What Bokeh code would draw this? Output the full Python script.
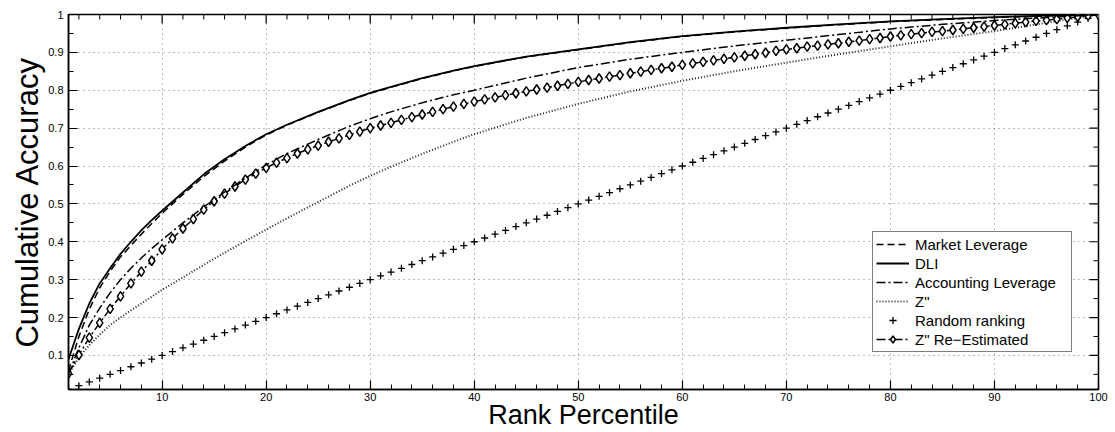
from bokeh.plotting import figure
from bokeh.models import (Range1d, FixedTicker, Legend, LegendItem,
                          CustomJSTickFormatter)
from bokeh.embed import file_html
from bokeh.resources import INLINE

# ---------------- data ----------------
# rank positions at which the smooth curves were read
rank_pts = [1, 2, 3, 4, 5, 6, 7, 8, 9, 10, 12, 14, 16, 18, 20, 22, 25, 28, 30, 32,
            35, 38, 40, 45, 50, 55, 60, 65, 70, 75, 80, 85, 90, 95, 100]

market_leverage = [0.06, 0.15, 0.222, 0.278, 0.322, 0.36, 0.39, 0.42, 0.448, 0.475,
                   0.525, 0.572, 0.613, 0.65, 0.682, 0.708, 0.742, 0.773, 0.792, 0.808,
                   0.831, 0.851, 0.863, 0.888, 0.907, 0.926, 0.942, 0.954, 0.964, 0.973,
                   0.981, 0.987, 0.992, 0.996, 1.0]

dli = [0.09, 0.17, 0.237, 0.29, 0.33, 0.368, 0.40, 0.43, 0.457, 0.482,
       0.53, 0.578, 0.618, 0.653, 0.684, 0.709, 0.743, 0.774, 0.793, 0.809,
       0.832, 0.852, 0.864, 0.889, 0.908, 0.927, 0.943, 0.955, 0.965, 0.974,
       0.982, 0.988, 0.993, 0.997, 1.0]

accounting_leverage = [0.05, 0.12, 0.18, 0.225, 0.265, 0.30, 0.33, 0.357, 0.382, 0.405,
                       0.45, 0.492, 0.531, 0.568, 0.603, 0.633, 0.670, 0.705, 0.725, 0.743,
                       0.767, 0.788, 0.80, 0.832, 0.86, 0.882, 0.90, 0.917, 0.932, 0.947,
                       0.962, 0.974, 0.984, 0.992, 1.0]

z_score = [0.05, 0.095, 0.127, 0.155, 0.18, 0.2, 0.219, 0.237, 0.255, 0.273,
           0.306, 0.339, 0.371, 0.402, 0.432, 0.462, 0.505, 0.548, 0.574, 0.598,
           0.632, 0.664, 0.684, 0.727, 0.764, 0.797, 0.825, 0.85, 0.873, 0.895,
           0.916, 0.937, 0.956, 0.978, 1.0]

# every rank percentile (marker series)
ranks = list(range(1, 101))

random_ranking = [0.01, 0.02, 0.03, 0.04, 0.05, 0.06, 0.07, 0.08, 0.09, 0.10,
                  0.11, 0.12, 0.13, 0.14, 0.15, 0.16, 0.17, 0.18, 0.19, 0.20,
                  0.21, 0.22, 0.23, 0.24, 0.25, 0.26, 0.27, 0.28, 0.29, 0.30,
                  0.31, 0.32, 0.33, 0.34, 0.35, 0.36, 0.37, 0.38, 0.39, 0.40,
                  0.41, 0.42, 0.43, 0.44, 0.45, 0.46, 0.47, 0.48, 0.49, 0.50,
                  0.51, 0.52, 0.53, 0.54, 0.55, 0.56, 0.57, 0.58, 0.59, 0.60,
                  0.61, 0.62, 0.63, 0.64, 0.65, 0.66, 0.67, 0.68, 0.69, 0.70,
                  0.71, 0.72, 0.73, 0.74, 0.75, 0.76, 0.77, 0.78, 0.79, 0.80,
                  0.81, 0.82, 0.83, 0.84, 0.85, 0.86, 0.87, 0.88, 0.89, 0.90,
                  0.91, 0.92, 0.93, 0.94, 0.95, 0.96, 0.97, 0.98, 0.99, 1.00]

z_re_estimated = [0.052, 0.101, 0.147, 0.186, 0.223, 0.256, 0.290, 0.321, 0.350, 0.380,
                  0.409, 0.435, 0.460, 0.485, 0.507, 0.527, 0.546, 0.564, 0.580, 0.595,
                  0.609, 0.621, 0.633, 0.644, 0.654, 0.664, 0.673, 0.682, 0.691, 0.700,
                  0.707, 0.714, 0.722, 0.729, 0.736, 0.743, 0.750, 0.757, 0.764, 0.770,
                  0.776, 0.781, 0.787, 0.792, 0.797, 0.802, 0.807, 0.812, 0.817, 0.822,
                  0.827, 0.831, 0.836, 0.840, 0.845, 0.849, 0.854, 0.858, 0.862, 0.867,
                  0.871, 0.875, 0.879, 0.883, 0.887, 0.891, 0.895, 0.899, 0.904, 0.908,
                  0.911, 0.915, 0.918, 0.921, 0.924, 0.928, 0.931, 0.935, 0.938, 0.942,
                  0.945, 0.948, 0.951, 0.954, 0.956, 0.959, 0.962, 0.965, 0.968, 0.971,
                  0.974, 0.977, 0.980, 0.983, 0.985, 0.988, 0.991, 0.994, 0.997, 1.000]

x_major = [10, 20, 30, 40, 50, 60, 70, 80, 90, 100]
x_minor = [2, 4, 6, 8, 12, 14, 16, 18, 22, 24, 26, 28, 32, 34, 36, 38, 42, 44, 46, 48,
           52, 54, 56, 58, 62, 64, 66, 68, 72, 74, 76, 78, 82, 84, 86, 88, 92, 94, 96, 98]
y_major = [0.1, 0.2, 0.3, 0.4, 0.5, 0.6, 0.7, 0.8, 0.9, 1.0]
y_minor = [0.05, 0.15, 0.25, 0.35, 0.45, 0.55, 0.65, 0.75, 0.85, 0.95]

X_LO, X_HI = 1, 100
Y_LO, Y_HI = 0.01, 1.0

FONT = "Liberation Sans"

# ---------------- figure ----------------
p = figure(width=1110, height=432, output_backend="svg", toolbar_location=None,
           x_range=Range1d(X_LO, X_HI), y_range=Range1d(Y_LO, Y_HI),
           min_border_left=68, min_border_right=12, min_border_top=14, min_border_bottom=0)
p.background_fill_color = "white"
p.border_fill_color = "white"
p.outline_line_color = "black"
p.outline_line_width = 1.5
p.outline_line_alpha = 1.0

xt = FixedTicker(ticks=x_major, minor_ticks=x_minor)
yt = FixedTicker(ticks=y_major, minor_ticks=y_minor)
yfmt = CustomJSTickFormatter(code="return String(Math.round(tick*100)/100);")


def style_axis(ax):
    ax.major_tick_in = 9
    ax.major_tick_out = 0
    ax.minor_tick_in = 5
    ax.minor_tick_out = 0
    ax.major_tick_line_color = "black"
    ax.minor_tick_line_color = "black"
    ax.major_tick_line_width = 1.2
    ax.minor_tick_line_width = 1.0
    ax.axis_line_color = "black"
    ax.axis_line_width = 1.5
    ax.major_label_text_font = FONT
    ax.major_label_text_font_size = "11px"
    ax.major_label_text_color = "black"


xa = p.xaxis[0]
xa.ticker = xt
style_axis(xa)
xa.major_label_standoff = 3
xa.axis_label = "Rank Percentile"
xa.axis_label_text_font = FONT
xa.axis_label_text_font_size = "27px"
xa.axis_label_text_font_style = "normal"
xa.axis_label_text_color = "black"
xa.axis_label_standoff = -4

ya = p.yaxis[0]
ya.ticker = yt
ya.formatter = yfmt
style_axis(ya)
ya.major_label_standoff = 5
ya.axis_label = "Cumulative Accuracy"
ya.axis_label_text_font = FONT
ya.axis_label_text_font_size = "31px"
ya.axis_label_text_font_style = "normal"
ya.axis_label_text_color = "black"
ya.axis_label_standoff = 0

for g in (p.xgrid[0], p.ygrid[0]):
    g.grid_line_color = "#7a7a7a"
    g.grid_line_dash = "1 4"
    g.grid_line_width = 1

# tick marks on the top and right edges of the box (half of each dash is clipped)
p.scatter(x_major, [Y_HI for _ in x_major], marker="dash", angle=1.5708, size=18,
          line_color="black", line_width=1.2)
p.scatter(x_minor, [Y_HI for _ in x_minor], marker="dash", angle=1.5708, size=10,
          line_color="black", line_width=1.0)
p.scatter([X_HI for _ in y_major], y_major, marker="dash", size=18,
          line_color="black", line_width=1.2)
p.scatter([X_HI for _ in y_minor], y_minor, marker="dash", size=10,
          line_color="black", line_width=1.0)

# ---------------- series ----------------
r_rand = p.scatter(ranks, random_ranking, marker="cross", size=7, line_width=1.3,
                   line_color="black")
r_z = p.line(rank_pts, z_score, line_color="#222222", line_width=2.0, line_dash="1 2")
r_zre_line = p.line(ranks, z_re_estimated, line_color="black", line_width=1.5,
                    line_dash="9 3 2 3")
r_zre_pts = p.scatter(ranks, z_re_estimated, marker="diamond", size=9.5, line_width=1.5,
                      line_color="black", fill_color="white")
r_acc = p.line(rank_pts, accounting_leverage, line_color="black", line_width=1.5,
               line_dash="9 3 2 3")
r_mkt = p.line(rank_pts, market_leverage, line_color="black", line_width=1.5,
               line_dash="7 4")
r_dli = p.line(rank_pts, dli, line_color="black", line_width=1.8)

legend = Legend(items=[
    LegendItem(label="Market Leverage", renderers=[r_mkt]),
    LegendItem(label="DLI", renderers=[r_dli]),
    LegendItem(label="Accounting Leverage", renderers=[r_acc]),
    LegendItem(label='Z"', renderers=[r_z]),
    LegendItem(label="Random ranking", renderers=[r_rand]),
    LegendItem(label='Z" Re\u2212Estimated', renderers=[r_zre_line, r_zre_pts]),
], location=(804, 37))
legend.margin = 0
legend.padding = 3
legend.spacing = 1
legend.glyph_width = 33
legend.glyph_height = 18
legend.label_height = 18
legend.label_width = 153
legend.label_standoff = 6
legend.label_text_font = FONT
legend.label_text_font_size = "15px"
legend.label_text_color = "black"
legend.border_line_color = "black"
legend.border_line_width = 1
legend.background_fill_color = "white"
legend.background_fill_alpha = 1.0
p.add_layout(legend)

open("out.html", "w").write(file_html(p, INLINE))
